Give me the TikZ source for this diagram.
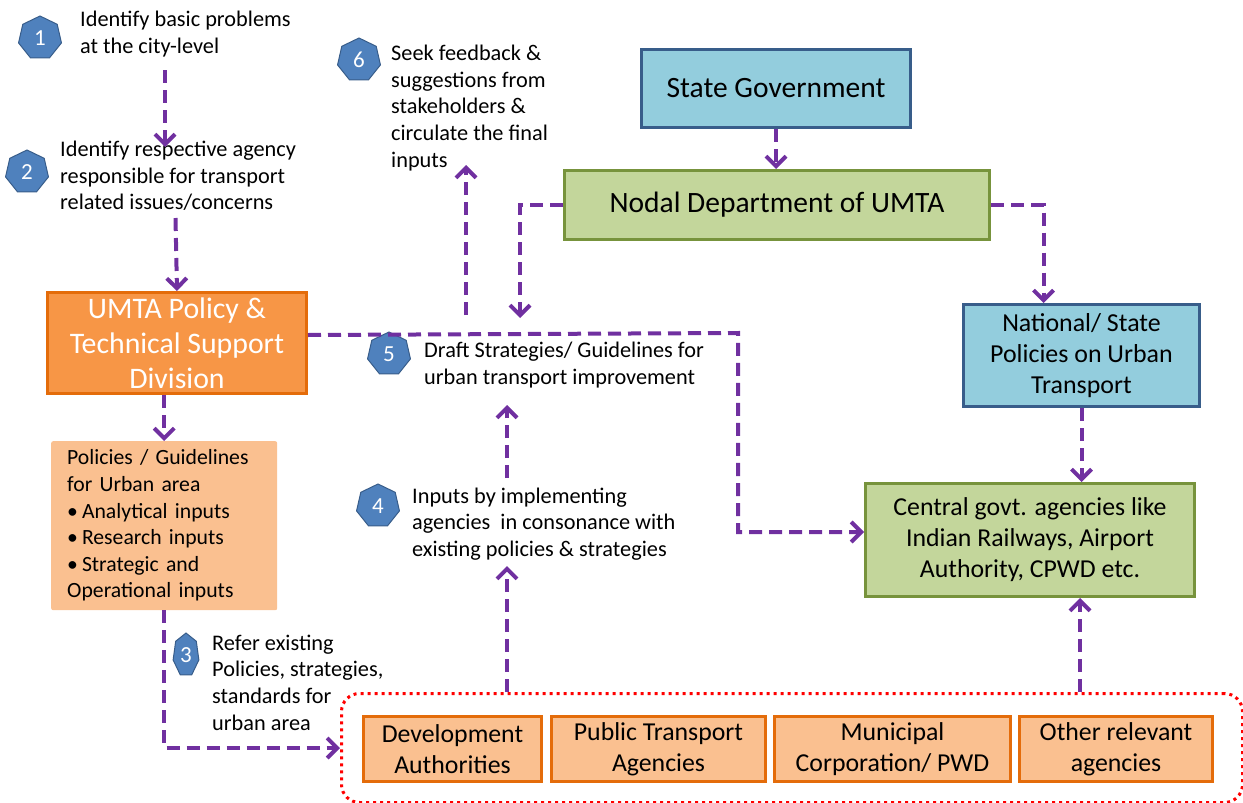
\documentclass[tikz,border=0pt]{standalone}
\usepackage{fontspec}
\setmainfont{Carlito}
\usetikzlibrary{arrows.meta,shapes.geometric}
\definecolor{arrpurple}{HTML}{7030A0}
\definecolor{badgeblue}{HTML}{4F81BD}
\definecolor{badgeedge}{HTML}{385D8A}
\definecolor{lightorange}{HTML}{FAC090}
\definecolor{darkorange}{HTML}{E46C0A}
\definecolor{midorange}{HTML}{F79646}
\definecolor{lightblue}{HTML}{93CDDD}
\definecolor{blueedge}{HTML}{385D8A}
\definecolor{lightgreen}{HTML}{C3D69B}
\definecolor{greenedge}{HTML}{77933C}
\newcommand\myfs[2]{\fontsize{#1}{#2}\selectfont}
\begin{document}
\begin{tikzpicture}[x=1pt,y=-1pt,
  arr/.style={draw=arrpurple, line width=4pt, dash pattern=on 13pt off 7pt, -{Straight Barb[length=10pt,width=20pt]}},
  badge/.style={regular polygon, regular polygon sides=7, minimum size=44pt, inner sep=0pt, fill=badgeblue, draw=badgeedge, line width=1pt, text=white, font=\myfs{23}{23}},
  note/.style={anchor=west, align=left, inner sep=0pt, font=\myfs{22.3}{26.6}},
  box/.style={anchor=north west, align=center, inner sep=0pt, line width=3pt},
  bluebox/.style={box, fill=lightblue, draw=blueedge},
  greenbox/.style={box, fill=lightgreen, draw=greenedge},
  agency/.style={box, fill=lightorange, draw=darkorange, minimum height=65pt, font=\myfs{25.8}{31}},
  reddot/.style={draw=red, line width=3pt, dash pattern=on 3pt off 4pt, rounded corners=18pt}
]
\useasboundingbox (0,0) rectangle (1243,803);

% badges and notes
\node[badge] (b1) at (40,38) {1};
\node[note] (t1) at (80,34) {Identify basic problems\\at the city-level};
\node[badge] (b2) at (27,172) {2};
\node[note] (t2) at (60,176) {Identify respective agency\\responsible for transport\\related issues/concerns};
\node[badge] (b6) at (359,60) {6};
\node[note] (t6) at (391,108) {Seek feedback \&\\suggestions from\\stakeholders \&\\circulate the final\\inputs};
\node[badge] (b5) at (389,354) {5};
\node[note] (t5) at (424,365) {Draft Strategies/ Guidelines for\\urban transport improvement};
\node[badge] (b4) at (378,506) {4};
\node[note] (t4) at (412,524) {Inputs by implementing\\agencies\ \ in consonance with\\existing policies \& strategies};
\node[badge, xscale=0.6, transform shape] (b3) at (186,655) {};
\node[text=white, font=\myfs{23}{23}, inner sep=0pt] (b3t) at (b3) {3};
\node[note] (t3) at (212,682.5) {Refer existing\\Policies, strategies,\\standards for\\urban area};

% boxes
\node[box, fill=midorange, draw=darkorange, text=white, minimum width=259pt, minimum height=101pt, font=\myfs{29.8}{35}] (umta) at (46,291) {UMTA Policy \&\\Technical Support\\Division};
\node[anchor=north west, fill=lightorange, rounded corners=2pt, minimum width=226pt, minimum height=169pt, inner xsep=16pt, text width=194pt, align=left, font=\myfs{21.7}{26.6}] (policies) at (51,441) {Policies / Guidelines\\for Urban area\\\textbullet\hspace{4pt}Analytical inputs\\\textbullet\hspace{4pt}Research inputs\\\textbullet\hspace{4pt}Strategic and\\Operational inputs};
\node[bluebox, minimum width=269pt, minimum height=78pt, font=\myfs{29.5}{35}] (state) at (640,48) {State Government};
\node[greenbox, minimum width=425pt, minimum height=69pt, font=\myfs{29.5}{35}] (nodal) at (563,169) {Nodal Department of UMTA};
\node[bluebox, minimum width=236pt, minimum height=102pt, font=\myfs{25.9}{31}] (national) at (962,303) {National/ State\\Policies on Urban\\Transport};
\node[greenbox, minimum width=329pt, minimum height=113pt, font=\myfs{25.8}{31}] (central) at (864,482) {Central govt. agencies like\\Indian Railways, Airport\\Authority, CPWD etc.};

% agencies group
\node[reddot, anchor=north west, minimum width=901pt, minimum height=109pt] (grp) at (340,692) {};
\node[agency, minimum width=178pt] (dev) at (362,715) {Development\\Authorities};
\node[agency, minimum width=214pt] (pta) at (550,715) {Public Transport\\Agencies};
\node[agency, minimum width=236pt] (mun) at (773,715) {Municipal\\Corporation/ PWD};
\node[agency, minimum width=193pt] (oth) at (1018,715) {Other relevant\\agencies};

% free ends
\coordinate (c1) at (165,70);
\coordinate (c1e) at (165,147);
\coordinate (c2) at (175.5,218);
\coordinate (c4s) at (507,692);
\coordinate (c4e) at (507,566);
\coordinate (c5s) at (507,478);
\coordinate (c5e) at (507,405);
\coordinate (c6s) at (466,315);
\coordinate (c6e) at (466,165);
\coordinate (cdraft) at (520,318);
\coordinate (cturn) at (738,333);
\coordinate (cgs) at (1080,692);

% connectors
\draw[arr] (c1) -- (c1e);
\draw[arr] (c2) -- (umta.north);
\draw[arr] (policies.north |- umta.south) -- (policies.north);
\draw[arr] (policies.south) |- (grp.west);
\draw[arr] (c4s) -- (c4e);
\draw[arr] (c5s) -- (c5e);
\draw[arr] (c6s) -- (c6e);
\draw[arr] (state.south) -- (state.south |- nodal.north);
\draw[arr] (nodal.west) -| (cdraft);
\draw[arr] (nodal.east) -| ([xshift=-38pt]national.north);
\draw[arr] (national.south) -- (national.south |- central.north);
\draw[arr] ([yshift=8pt]umta.east) -- (cturn) |- ([yshift=8pt]central.west);
\draw[arr] (cgs) -- (cgs |- central.south);
\end{tikzpicture}
\end{document}
